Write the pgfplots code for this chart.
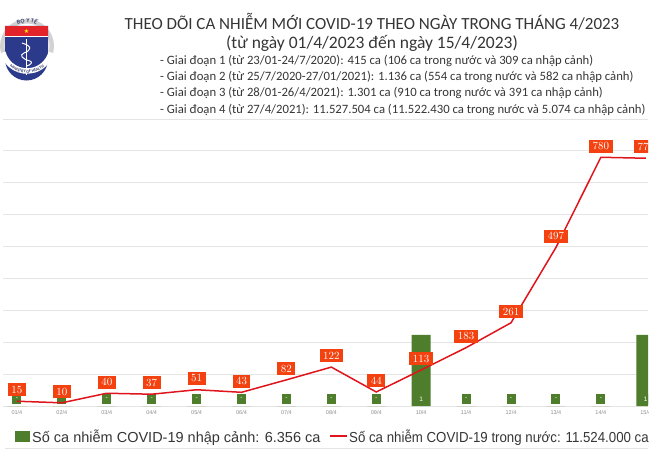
\documentclass[border=0pt]{standalone}
\usepackage{fontspec}
\setmainfont{Carlito}
\newfontfamily\arial{Liberation Sans}
\newfontfamily\dejavu{DejaVu Sans}
\usepackage{pgfplots}
\usepackage{pgfplotstable}
\pgfplotsset{compat=1.18}
\usetikzlibrary{decorations.text}

\definecolor{titlegray}{HTML}{353535}
\definecolor{gridgray}{HTML}{E4E4E4}
\definecolor{bargreen}{HTML}{4E7D2C}
\definecolor{linered}{HTML}{E0141C}
\definecolor{labred}{HTML}{F3410F}
\definecolor{tickgray}{HTML}{8C8C8C}
\definecolor{mohblue}{HTML}{2C3A8C}
\definecolor{mohred}{HTML}{E3232A}
\definecolor{ringgray}{HTML}{D2D2D2}
\definecolor{logotext}{HTML}{3A4170}

% x: day index, dom: domestic cases, imp: imported cases, lab: bar label, base: 0
\pgfplotstableread{
x  dom imp lab base
0  15  0   -   0
1  10  0   -   0
2  40  0   -   0
3  37  0   -   0
4  51  0   -   0
5  43  0   -   0
6  82  0   -   0
7  122 0   -   0
8  44  0   -   0
9  113 1   1   0
10 183 0   -   0
11 261 0   -   0
12 497 0   -   0
13 780 0   -   0
14 777 1   1   0
}\covid

\begin{document}
\begin{tikzpicture}[x=1pt,y=1pt]
\useasboundingbox (0,0) rectangle (660,459);

% logo
\fill[ringgray] (27,413) circle (27);
\fill[white] (27,413) circle (22.5);
\fill[mohblue] (5,433) -- (48,433) -- (48,400) arc[start angle=0, end angle=-180, radius=21.5] -- cycle;
\fill[mohred] (5,433) rectangle (48,423);
\draw[white, line width=0.8pt] (5,423) -- (48,423);
\node[text=yellow, inner sep=0pt, font=\fontsize{6}{6}\selectfont\dejavu] at (26.5,428) {★};
\draw[white, line width=1.2pt] (26.5,420) -- (26.5,384);
\draw[white, line width=1pt] (22,416) .. controls (32,413) and (32,409) .. (24,406) .. controls (19,404) and (22,400) .. (30,398) .. controls (33,397) and (31,394) .. (26.5,393);
\draw[white, line width=5.5pt] (2.85,406.53) arc[start angle=195, end angle=345, radius=25];
\path[postaction={decorate}, decoration={text along path, text align=center, text color=logotext,
    text={|\fontsize{6}{6}\selectfont\bfseries|BỘ Y TẾ}}]
  (6.7,424.7) arc[start angle=150, end angle=30, radius=23.5];
\path[postaction={decorate}, decoration={text along path, text align=center, text color=logotext,
    text={|\fontsize{4.2}{4.2}\selectfont\bfseries|MINISTRY OF HEALTH}}]
  (1.63,403.77) arc[start angle=200, end angle=340, radius=27];

% header
\node[text=titlegray, font=\fontsize{17}{20}\selectfont] at (372,437)
  {THEO DÕI CA NHIỄM MỚI COVID-19 THEO NGÀY TRONG THÁNG 4/2023};
\node[text=titlegray, font=\fontsize{17.5}{20}\selectfont] at (372,416)
  {(từ ngày 01/4/2023 đến ngày 15/4/2023)};
\begin{scope}[every node/.style={anchor=west, text=titlegray, font=\fontsize{12.7}{14}\selectfont, inner sep=0pt}]
\node at (160,398) {- Giai đoạn 1 (từ 23/01-24/7/2020): 415 ca (106 ca trong nước và 309 ca nhập cảnh)};
\node at (160,382) {- Giai đoạn 2 (từ 25/7/2020-27/01/2021): 1.136 ca (554 ca trong nước và 582 ca nhập cảnh)};
\node at (160,366) {- Giai đoạn 3 (từ 28/01-26/4/2021): 1.301 ca (910 ca trong nước và 391 ca nhập cảnh)};
\node at (160,349) {- Giai đoạn 4 (từ 27/4/2021): 11.527.504 ca (11.522.430 ca trong nước và 5.074 ca nhập cảnh)};
\end{scope}

\begin{scope}
\clip (0,0) rectangle (648,459);
\pgfplotsset{every axis/.append style={
  at={(3pt,53pt)}, anchor=south west, scale only axis,
  width=645pt, height=287pt, xmin=-0.31, xmax=14.05}}

% grid and day labels
\begin{axis}[
  ymin=0, ymax=900, ytick={0,100,...,900}, yticklabels={},
  ymajorgrids, grid style={gridgray, line width=1pt},
  xtick={0,...,14},
  xticklabels={01/4,02/4,03/4,04/4,05/4,06/4,07/4,08/4,09/4,10/4,11/4,12/4,13/4,14/4,15/4},
  xticklabel style={font=\fontsize{5.5}{6}\selectfont\arial, text=tickgray, inner sep=0pt, yshift=-4.5pt},
  major tick length=0pt, axis line style={draw=none}, clip=false]
  \addplot[draw=none] coordinates {(0,0)};
\end{axis}

% imported cases (bars)
\begin{axis}[ymin=0, ymax=4.04, hide axis]
  \addplot[ybar, bar width=19pt, fill=bargreen, draw=none] table[x=x, y=imp]{\covid};
  \addplot[only marks, mark size=0pt, point meta=explicit symbolic,
    nodes near coords,
    nodes near coords style={anchor=south, yshift=2pt, fill=bargreen, text=white,
      font=\fontsize{6.5}{6.5}\selectfont\arial, inner sep=0pt,
      minimum width=9pt, minimum height=10pt}]
    table[x=x, y=base, meta=lab]{\covid};
\end{axis}

% domestic cases (line)
\begin{axis}[ymin=0, ymax=900, hide axis, clip=false]
  \addplot[linered, line width=1.5pt, mark=none, point meta=y,
    nodes near coords,
    nodes near coords style={anchor=south, yshift=4pt, fill=labred, text=white,
      font=\fontsize{10.5}{10.5}\selectfont, inner xsep=3.5pt, inner ysep=3pt,
      text height=7pt, text depth=0pt}]
    table[x=x, y=dom]{\covid};
\end{axis}

% legend
\fill[bargreen] (15,17) rectangle (30,28);
\node[anchor=base west, inner sep=0pt, text=titlegray, font=\fontsize{14.5}{16}\selectfont\arial] at (32,17)
  {Số ca nhiễm COVID-19 nhập cảnh: 6.356 ca};
\draw[linered, line width=1.5pt] (330,23) -- (347,23);
\node[anchor=base west, inner sep=0pt, text=titlegray, font=\fontsize{14.5}{16}\selectfont\arial] at (349,17)
  {\scalebox{0.915}[1]{Số ca nhiễm COVID-19 trong nước: 11.524.000 ca}};
\draw[gridgray, line width=0.8pt] (5,11) -- (648,11);
\end{scope}
\end{tikzpicture}
\end{document}
